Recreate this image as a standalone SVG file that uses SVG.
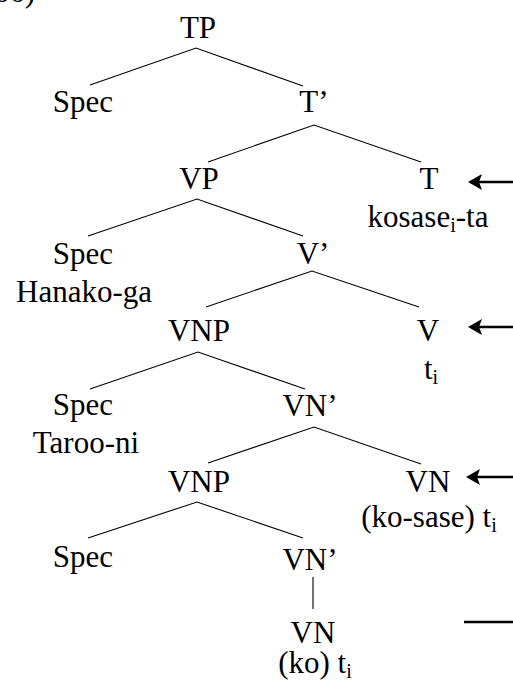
<svg xmlns="http://www.w3.org/2000/svg" width="513" height="688" viewBox="0 0 513 688" font-family="Liberation Serif, serif">
  <style>
    text { font-size: 31px; fill: #000; text-anchor: middle; }
    .sub { font-size: 20px; }
    .edge { stroke: #000; stroke-width: 1.1; fill: none; }
    .pointer { stroke: #000; stroke-width: 2.6; fill: none; }
  </style>
  <defs>
    <marker id="head" viewBox="0 0 14 16" refX="6" refY="8" markerWidth="14" markerHeight="16" markerUnits="userSpaceOnUse" orient="auto">
      <path d="M0,0 L14,8 L0,16 L3,8 Z" fill="#000"/>
    </marker>
  </defs>

  <!-- example number, mostly above the top edge -->
  <text x="35" y="2" style="text-anchor:end">(66)</text>

  <!-- tree branches -->
  <g id="connectors">
    <path class="edge" d="M90,85 L196,48 L303,86"/>
    <path class="edge" d="M208,162 L314,125 L421,162"/>
    <path class="edge" d="M88,236 L197,199 L303,236"/>
    <path class="edge" d="M206,307 L312,271 L419,307"/>
    <path class="edge" d="M90,389 L198,352 L305,389"/>
    <path class="edge" d="M208,463 L314,427 L421,464"/>
    <path class="edge" d="M88,538 L197,502 L303,538"/>
    <path class="edge" d="M313,577 L313,609"/>
    <!-- pointers in the right margin -->
    <line class="pointer" x1="513" y1="182" x2="476" y2="182" marker-end="url(#head)"/>
    <line class="pointer" x1="513" y1="327" x2="476" y2="327" marker-end="url(#head)"/>
    <line class="pointer" x1="513" y1="477" x2="474" y2="477" marker-end="url(#head)"/>
    <line class="pointer" x1="464" y1="622" x2="513" y2="622"/>
  </g>

  <g id="TP"><text x="198" y="38">TP</text></g>
  <g id="SpecT"><text x="83" y="112">Spec</text></g>
  <g id="Tbar"><text x="314" y="112">T’</text></g>
  <g id="VP"><text x="199" y="189">VP</text></g>
  <g id="T">
    <text x="429" y="189">T</text>
    <text x="428" y="227">kosase<tspan class="sub" dy="5">i</tspan><tspan dy="-5">-ta</tspan></text>
  </g>
  <g id="SpecV">
    <text x="83" y="264">Spec</text>
    <text x="84" y="302">Hanako-ga</text>
  </g>
  <g id="Vbar"><text x="313" y="264">V’</text></g>
  <g id="VNP1"><text x="199" y="341">VNP</text></g>
  <g id="V">
    <text x="428" y="341">V</text>
    <text x="431" y="379">t<tspan class="sub" dy="5">i</tspan></text>
  </g>
  <g id="SpecVNP1">
    <text x="83" y="415">Spec</text>
    <text x="86" y="453">Taroo-ni</text>
  </g>
  <g id="VNbar1"><text x="310" y="416">VN’</text></g>
  <g id="VNP2"><text x="199" y="492">VNP</text></g>
  <g id="VN1">
    <text x="428" y="492">VN</text>
    <text x="429" y="527">(ko-sase) t<tspan class="sub" dy="5">i</tspan></text>
  </g>
  <g id="SpecVNP2"><text x="83" y="567">Spec</text></g>
  <g id="VNbar2"><text x="310" y="570">VN’</text></g>
  <g id="VN2">
    <text x="313" y="643">VN</text>
    <text x="315" y="673">(ko) t<tspan class="sub" dy="5">i</tspan></text>
  </g>
</svg>
